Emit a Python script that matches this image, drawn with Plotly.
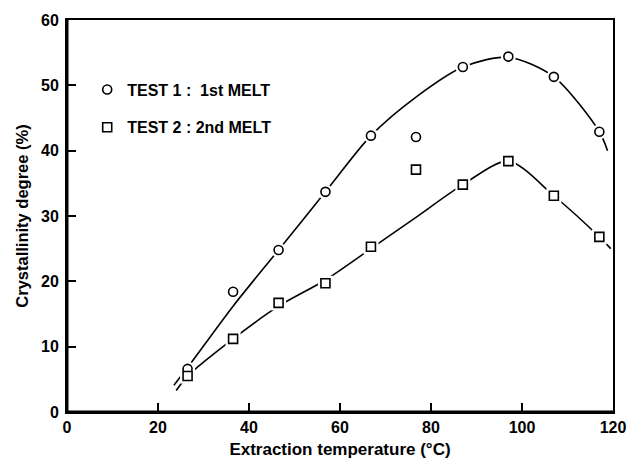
import plotly.graph_objects as go

# Measured points
temp = [26.5, 36.5, 46.5, 56.8, 66.8, 76.7, 87, 97, 107, 117]
test1 = [6.6, 18.4, 24.8, 33.7, 42.3, 42.1, 52.8, 54.4, 51.3, 42.9]
test2 = [5.5, 11.2, 16.7, 19.7, 25.3, 37.1, 34.8, 38.4, 33.1, 26.8]

# Hand-drawn fitted curves
fit1_x = [23.5, 26.5, 36.5, 46.5, 56.8, 66.8, 76.7, 87, 97, 107, 117, 118.8]
fit1_y = [4.1, 6.8, 16.2, 24.8, 33.7, 42.3, 48.2, 52.8, 54.3, 51.3, 42.9, 40.0]
fit2_x = [24.0, 26.5, 36.5, 46.5, 56.8, 66.8, 76.7, 87, 97, 107, 117, 119.5]
fit2_y = [3.3, 5.5, 11.2, 16.2, 20.2, 25.0, 29.8, 34.8, 38.4, 33.1, 26.8, 25.0]

names = ["TEST 1 :  1st MELT", "TEST 2 : 2nd MELT"]
x_ticks = [0, 20, 40, 60, 80, 100, 120]
y_ticks = [0, 10, 20, 30, 40, 50, 60]

FONT = "Liberation Sans"
fig = go.Figure()

for fx, fy in [(fit1_x, fit1_y), (fit2_x, fit2_y)]:
    fig.add_trace(go.Scatter(x=fx, y=fy, mode="lines", line=dict(color="black", width=1.6, shape="spline", smoothing=0.8),
                             showlegend=False, hoverinfo="skip"))

# white halo to create gaps around markers
for ys, sym in [(test1, "circle"), (test2, "square")]:
    fig.add_trace(go.Scatter(x=temp, y=ys, mode="markers", showlegend=False, hoverinfo="skip",
                             marker=dict(symbol=sym, size=15, color="white", line=dict(width=0))))

for i, (ys, sym) in enumerate([(test1, "circle"), (test2, "square")]):
    fig.add_trace(go.Scatter(x=temp, y=ys, mode="markers", name=names[i], legendgroup=str(i),
                             marker=dict(symbol=sym, size=9, color="white", line=dict(color="black", width=1.6))))

axis_common = dict(showline=True, linecolor="black", linewidth=2, mirror=True, ticks="inside",
                   ticklen=9, tickwidth=1.5, tickcolor="black", showgrid=False, zeroline=False,
                   automargin=False,
                   tickfont=dict(family=FONT, size=16, color="black", weight="bold"))
fig.update_xaxes(range=[0, 120], tickvals=x_ticks,
                 title=dict(text="Extraction temperature (°C)", font=dict(family=FONT, size=17, color="black", weight="bold"), standoff=8),
                 **axis_common)
fig.update_yaxes(range=[0, 60], tickvals=y_ticks, ticklabelstandoff=3,
                 title=dict(text="Crystallinity degree (%)", font=dict(family=FONT, size=16.5, color="black", weight="bold"), standoff=8),
                 **axis_common)

fig.add_shape(type="line", xref="paper", yref="paper", x0=0, x1=0, y0=0, y1=1, line=dict(color="black", width=3))
fig.add_shape(type="line", xref="paper", yref="paper", x0=0, x1=1, y0=0, y1=0, line=dict(color="black", width=3))

fig.update_layout(
    width=629, height=460,
    margin=dict(l=67, r=16, t=20, b=48),
    plot_bgcolor="white", paper_bgcolor="white",
    showlegend=True,
    legend=dict(x=0.037, y=0.866, xanchor="left", yanchor="top", bgcolor="rgba(0,0,0,0)",
                font=dict(family=FONT, size=16, color="black", weight="bold"),
                tracegroupgap=14, itemwidth=30, traceorder="grouped"),
)

fig.write_html("out.html")
